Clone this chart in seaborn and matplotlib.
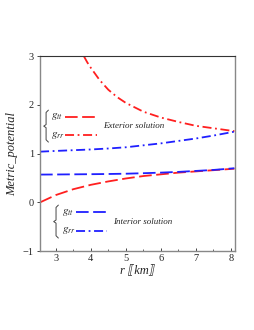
"""
plot.py

Metric potentials g_tt and g_rr, interior vs exterior solution.
"""

import pandas as pd
import matplotlib
matplotlib.use("Agg")
import matplotlib.pyplot as plt
import seaborn as sns

############################################################
# Data
############################################################

r_values = [2.55, 3.0, 3.5, 4.0, 4.5, 5.0, 5.5, 6.0, 6.5, 7.0, 7.5, 8.1]

ext_gtt = [0.0, 0.15, 0.27, 0.36, 0.43, 0.49, 0.54, 0.575, 0.61, 0.635, 0.66, 0.69]
int_gtt = [0.57, 0.572, 0.575, 0.578, 0.582, 0.588, 0.598, 0.61, 0.625, 0.645, 0.665, 0.70]
int_grr = [1.04, 1.055, 1.07, 1.085, 1.105, 1.13, 1.17, 1.21, 1.26, 1.31, 1.37, 1.45]

r_ext_grr = [3.8, 3.9, 4.0, 4.25, 4.5, 4.75, 5.0, 5.5, 6.0, 6.5, 7.0, 7.5, 8.1]
ext_grr = [3.0, 2.87, 2.76, 2.51, 2.31, 2.16, 2.04, 1.86, 1.74, 1.65, 1.57, 1.52, 1.46]

x_ticks = [3, 4, 5, 6, 7, 8]
y_ticks = [-1, 0, 1, 2, 3]

RED = "#ff1f1f"
BLUE = "#1f1fff"

DASH = (7, 2.5)
DASHDOT = (5, 2, 1, 2)

############################################################
# Plot
############################################################

sns.set_style("ticks")
plt.rcParams["font.family"] = ["Liberation Serif", "DejaVu Sans"]
plt.rcParams["mathtext.fontset"] = "stix"

fig = plt.figure(figsize=(2.55, 3.3), dpi=100)
ax = fig.add_axes([0.157, 0.239, 0.765, 0.591])

df_ext_tt = pd.DataFrame({"r": r_values, "g": ext_gtt})
df_int_tt = pd.DataFrame({"r": r_values, "g": int_gtt})
df_int_rr = pd.DataFrame({"r": r_values, "g": int_grr})
df_ext_rr = pd.DataFrame({"r": r_ext_grr, "g": ext_grr})

sns.lineplot(data=df_ext_tt, x="r", y="g", ax=ax, color=RED,
             lw=1.3, dashes=DASH)
sns.lineplot(data=df_ext_rr, x="r", y="g", ax=ax, color=RED,
             lw=1.3, dashes=DASHDOT)
sns.lineplot(data=df_int_tt, x="r", y="g", ax=ax, color=BLUE,
             lw=1.3, dashes=DASH)
sns.lineplot(data=df_int_rr, x="r", y="g", ax=ax, color=BLUE,
             lw=1.3, dashes=DASHDOT)

ax.set_xlim(2.55, 8.12)
ax.set_ylim(-1, 3)
ax.set_xticks(x_ticks)
ax.set_yticks(y_ticks)
ax.set_xticks([2.5 + 0.5 * i for i in range(1, 12)], minor=True)
ax.tick_params(axis="both", labelsize=7.5, length=2.5, width=0.6,
               direction="out", pad=2)
ax.tick_params(axis="x", direction="in")
ax.tick_params(axis="x", which="minor", direction="in", length=1.5,
               width=0.5)

for side in ["left", "right", "bottom"]:
    ax.spines[side].set_color("#888888")
    ax.spines[side].set_linewidth(1.0)
ax.spines["top"].set_color("#333333")
ax.spines["top"].set_linewidth(0.8)

ax.set_xlabel("r ⟦km⟧", fontsize=9, style="italic", labelpad=2,
              family=["Liberation Serif", "DejaVu Sans"])
ax.set_ylabel("Metric_potential", fontsize=9, style="italic", labelpad=3)

############################################################
# Hand-made legends
############################################################

def brace(x, y_top, y_bot):
    y_mid = 0.5 * (y_top + y_bot)
    xs = [x + 0.012, x, x, x - 0.012, x, x, x + 0.012]
    ys = [y_top, y_top - 0.012, y_mid + 0.008, y_mid, y_mid - 0.008,
          y_bot + 0.012, y_bot]
    ax.plot(xs, ys, transform=ax.transAxes, color="#444444", lw=0.7,
            clip_on=False)


def legend_block(x_brace, y_top, y_bot, x_lbl, x0, x1, x_txt, color, title):
    brace(x_brace, y_top, y_bot)
    y_mid = 0.5 * (y_top + y_bot)
    y_tt = y_mid + 0.048
    y_rr = y_mid - 0.048
    ax.text(x_lbl, y_tt, r"$g_{tt}$", transform=ax.transAxes,
            fontsize=8, va="center", ha="left")
    ax.text(x_lbl, y_rr, r"$g_{rr}$", transform=ax.transAxes,
            fontsize=8, va="center", ha="left")
    ax.plot([x0, x1], [y_tt, y_tt], transform=ax.transAxes,
            color=color, lw=1.3, dashes=DASH)
    ax.plot([x0, x1], [y_rr, y_rr], transform=ax.transAxes,
            color=color, lw=1.3, dashes=DASHDOT)
    ax.text(x_txt, y_mid, title, transform=ax.transAxes, fontsize=6.5,
            style="italic", va="center", ha="left")


legend_block(0.031, 0.723, 0.559, 0.058, 0.128, 0.29, 0.323, RED,
             "Exterior solution")
legend_block(0.082, 0.236, 0.067, 0.113, 0.185, 0.344, 0.374, BLUE,
             "Interior solution")

fig.savefig("out.png", dpi=100)
plt.close(fig)
